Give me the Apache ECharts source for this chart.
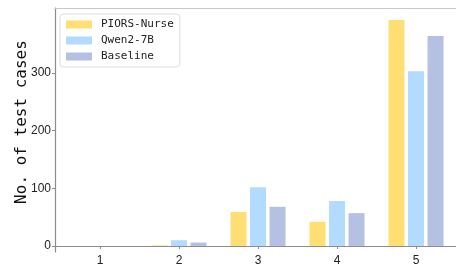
<!DOCTYPE html>
<html>
<head>
<meta charset="utf-8">
<script src="https://cdn.jsdelivr.net/npm/echarts@6/dist/echarts.min.js"></script>
<style>
  html, body { margin: 0; padding: 0; background: #fff; }
  #chart { width: 456px; height: 264px; }
</style>
</head>
<body>
<div id="chart"></div>
<script>
// scores 1..5 on the x axis
var categories = [1, 2, 3, 4, 5];
var piorsNurse = [0, 1, 59, 42, 392];
var qwen27b = [0, 10, 102, 78, 303];
var baseline = [0, 6, 68, 57, 364];
var yTicks = [0, 100, 200, 300];

var names = ["PIORS-Nurse", "Qwen2-7B", "Baseline"];
var colors = ["#ffde73", "#b3dbff", "#b5c1e2"];
var values = [piorsNurse, qwen27b, baseline];

var chart = echarts.init(document.getElementById("chart"));

var series = values.map(function (vals, i) {
  return {
    name: names[i],
    type: "bar",
    xAxisIndex: 0,
    barWidth: 16,
    barGap: "22%",
    itemStyle: {
      color: colors[i],
      borderWidth: 0
    },
    data: categories.map(function (c, j) {
      return [c, vals[j]];
    })
  };
});

var option = {
  animation: false,
  grid: {
    left: 55,
    right: 0,
    top: 8,
    bottom: 12,
    outerBoundsMode: "none"
  },
  legend: {
    orient: "vertical",
    left: 60,
    top: 14,
    data: names,
    icon: "rect",
    itemWidth: 26,
    itemHeight: 8,
    itemGap: 5,
    padding: [5, 6, 5, 6],
    borderColor: "#dddddd",
    borderWidth: 1,
    borderRadius: 3,
    textStyle: {
      fontFamily: "DejaVu Sans Mono",
      fontSize: 11,
      color: "#222",
      padding: [0, 0, 0, 4]
    },
    selectedMode: false
  },
  xAxis: [
    {
      type: "value",
      min: 0.43,
      max: 5.506,
      position: "bottom",
      splitLine: { show: false },
      axisLine: { show: true, lineStyle: { color: "#8c8c8c", width: 1.2 } },
      axisTick: {
        show: true,
        length: 3,
        customValues: categories,
        lineStyle: { color: "#8c8c8c" }
      },
      axisLabel: {
        customValues: categories,
        fontFamily: "Liberation Sans",
        fontSize: 12,
        color: "#222",
        margin: 3
      }
    },
    {
      type: "value",
      min: 0.43,
      max: 5.506,
      position: "top",
      splitLine: { show: false },
      axisLine: { show: true, lineStyle: { color: "#c8c8c8", width: 1.2 } },
      axisTick: { show: false },
      axisLabel: { show: false }
    }
  ],
  yAxis: {
    type: "value",
    min: -10.4,
    max: 412.7,
    name: "No. of test cases",
    nameLocation: "middle",
    nameGap: 25,
    nameMoveOverlap: false,
    nameTextStyle: {
      fontFamily: "DejaVu Sans Mono",
      fontSize: 16,
      color: "#111",
      padding: [0, 0, 0, 16]
    },
    splitLine: { show: false },
    axisLine: { show: true, lineStyle: { color: "#8c8c8c", width: 1.2 } },
    axisTick: {
      show: true,
      length: 3,
      customValues: yTicks,
      lineStyle: { color: "#8c8c8c" }
    },
    axisLabel: {
      customValues: yTicks,
      fontFamily: "Liberation Sans",
      fontSize: 12,
      color: "#222",
      margin: 4
    }
  },
  series: series
};

chart.setOption(option);
</script>
</body>
</html>
